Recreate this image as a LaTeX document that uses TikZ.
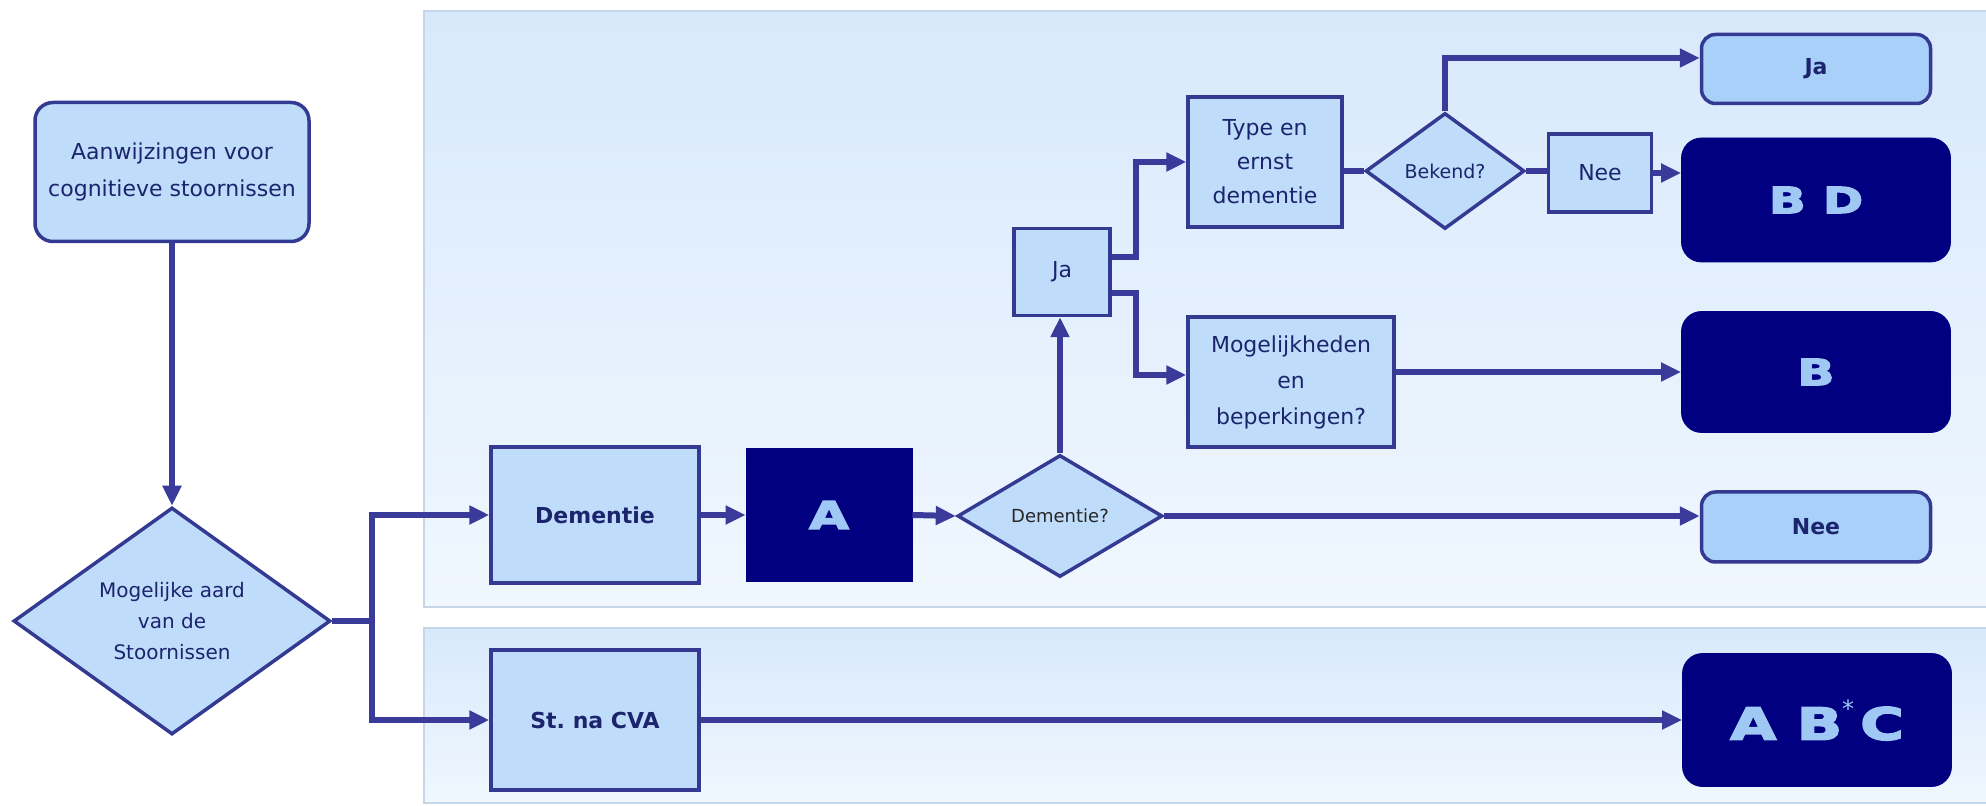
\documentclass[tikz,border=0pt]{standalone}
\usepackage{fontspec}
\setmainfont{DejaVu Sans}
\newfontfamily\blockfont[UprightFont=* Bold,FakeBold=4,FakeStretch=1.35]{DejaVu Sans}
\usetikzlibrary{positioning,shapes.geometric,arrows.meta}

\definecolor{paneltop}{RGB}{216,233,252}
\definecolor{panelbot}{RGB}{240,247,254}
\definecolor{panelline}{RGB}{196,214,232}
\definecolor{boxfill}{RGB}{191,221,250}
\definecolor{resultfill}{RGB}{168,208,248}
\definecolor{boxline}{RGB}{52,58,145}
\definecolor{linkcol}{RGB}{58,58,155}
\definecolor{darkbox}{RGB}{0,0,128}
\definecolor{lettercol}{RGB}{160,200,245}
\definecolor{navytext}{RGB}{28,36,110}

\begin{document}
\begin{tikzpicture}[x=0.5pt,y=-0.5pt,
        box/.style={draw=boxline,fill=boxfill,line width=1.75pt,inner sep=0pt,
            align=center,text=navytext,font=\fontsize{11}{17}\selectfont},
        result/.style={box,fill=resultfill,rounded corners=7pt,
            font=\bfseries\fontsize{11}{13}\selectfont},
        answer/.style={draw=darkbox,fill=darkbox,rounded corners=10pt,inner sep=0pt,
            text=lettercol,font=\blockfont\fontsize{18}{20}\selectfont},
        choice/.style={diamond,draw=boxline,fill=boxfill,line width=1.75pt,
            inner sep=0pt,aspect=1.4,align=center,text=navytext},
        link/.style={draw=linkcol,line width=3pt,-{Triangle[length=10pt,width=9pt]}},
        plain/.style={draw=linkcol,line width=3pt},
        panel/.style={draw=panelline,line width=0.75pt,top color=paneltop,bottom color=panelbot}
    ]
    \useasboundingbox (0,0) rectangle (1986,806);

    % Background panels
    \path[panel] (424,11) rectangle (1992,607);
    \path[panel] (424,628) rectangle (1992,803);

    % Entry and first choice
    \node[box,rounded corners=9pt,minimum width=137pt,minimum height=69.5pt,
        font=\fontsize{11}{18.5}\selectfont] (aanw) at (172,172)
        {Aanwijzingen voor\\cognitieve stoornissen};
    \node[choice,minimum width=158.5pt,minimum height=113.5pt,
        font=\fontsize{10}{15.5}\selectfont] (aard) at (172,621)
        {Mogelijke aard\\van de\\Stoornissen};

    % Dementie row
    \node[box,minimum width=104pt,minimum height=68pt,
        font=\bfseries\fontsize{11}{13}\selectfont] (dem) at (595,515) {Dementie};
    \node[answer,sharp corners,minimum width=83pt,minimum height=66.5pt,
        font=\blockfont\fontsize{19}{20}\selectfont] (a) at (829,515) {A};
    \node[choice,minimum width=102.5pt,minimum height=61pt,text=black!85,
        font=\fontsize{9}{11}\selectfont] (demq) at (1060,516) {Dementie?};
    \node[box,minimum width=48pt,minimum height=43.5pt] (ja) at (1062,272) {Ja};
    \node[box,minimum width=77pt,minimum height=65pt] (type) at (1265,162)
        {Type en\\ernst\\dementie};
    \node[box,minimum width=103pt,minimum height=65pt,
        font=\fontsize{11}{18}\selectfont] (mog) at (1291,382)
        {Mogelijkheden\\en\\beperkingen?};
    \node[choice,minimum width=79.5pt,minimum height=58pt,
        font=\fontsize{9.5}{11}\selectfont] (bek) at (1445,171) {Bekend?};
    \node[box,minimum width=51.5pt,minimum height=39pt] (nee) at (1600,173) {Nee};

    % Outcomes
    \node[result,minimum width=114.5pt,minimum height=34.5pt] (jares) at (1816,69) {Ja};
    \node[answer,minimum width=134.5pt,minimum height=62pt] (bd) at (1816,200) {B D};
    \node[answer,minimum width=134.5pt,minimum height=60.5pt] (b) at (1816,372) {B};
    \node[result,minimum width=114.5pt,minimum height=35pt] (neeres) at (1816,527) {Nee};

    % CVA row
    \node[box,minimum width=104pt,minimum height=70pt,
        font=\bfseries\fontsize{11}{13}\selectfont] (cva) at (595,720) {St.\ na CVA};
    \node[answer,minimum width=134.5pt,minimum height=66.5pt,
        font=\blockfont\fontsize{22}{24}\selectfont] (abc) at (1817,720)
        {A B\raisebox{0.5em}{\normalfont\fontsize{12}{12}\selectfont *}\hspace{3pt}C};

    % Connectors
    \draw[link] (aanw.south) -- (aanw.south |- aard.north);
    \draw[link] (aard.east) -- ++(40,0) coordinate (fork) |- (dem.west);
    \draw[link] (fork) |- (cva.west);
    \draw[link] (dem.east) -- (a.west);
    \draw[link] (a.east) -- (demq.west);
    \draw[link] (demq.north) -- (demq.north |- ja.south);
    \draw[link] ([yshift=7.5pt]ja.east) -- ++(24,0) |- (type.west);
    \draw[link] ([yshift=-10.5pt]ja.east) -- ++(24,0) |- ([yshift=3.5pt]mog.west);
    \draw[plain] (type.east |- bek.west) -- (bek.west);
    \draw[plain] (bek.east) -- (bek.east -| nee.west);
    \draw[link] (bek.north) |- ([yshift=5.5pt]jares.west);
    \draw[link] (nee.east) -- (nee.east -| bd.west);
    \draw[link] (mog.east |- b.west) -- (b.west);
    \draw[link] (demq.east) -- (demq.east -| neeres.west);
    \draw[link] (cva.east) -- (abc.west);

\end{tikzpicture}
\end{document}
